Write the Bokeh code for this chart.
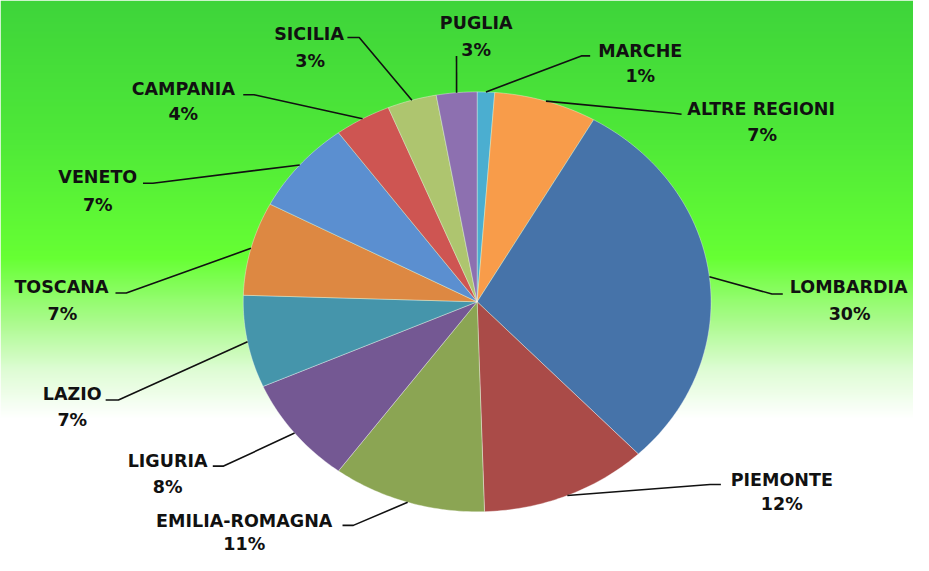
import numpy as np
from bokeh.plotting import figure
from bokeh.models import Range1d, ColumnDataSource
from bokeh.core.properties import value
from bokeh.embed import file_html
from bokeh.resources import INLINE

# ---- data ----
regions = ["MARCHE", "ALTRE REGIONI", "LOMBARDIA", "PIEMONTE", "EMILIA-ROMAGNA",
           "LIGURIA", "LAZIO", "TOSCANA", "VENETO", "CAMPANIA", "SICILIA", "PUGLIA"]
shares = [1.2, 7.1, 29.6, 11.6, 10.6, 8.3, 7.1, 7.2, 7.2, 3.9, 3.4, 2.8]
colors = ["#4BAED0", "#F89C4A", "#4673A9", "#AA4B48", "#8BA553", "#745893",
          "#4595AB", "#DD8842", "#5B8FD0", "#CE5552", "#AEC56F", "#8D70B0"]

# ---- layout (reference pixel space, measured from the top) ----
W, H = 929, 571
CX, CY, RX, RY = 485, 310, 238, 216
name_pos = [(651, 52), (774, 112), (863, 295), (795, 493), (248, 535), (170, 474),
            (73, 405), (62, 295), (99, 182), (186, 91), (314, 34), (484, 23)]
pct_pos = [(651, 78), (775, 138), (864, 323), (795, 518), (248, 559), (170, 501),
           (73, 432), (63, 323), (99, 210), (186, 117), (315, 62), (484, 51)]
elbows = [(591, 57), (685, 116), (785, 302), (722, 498), (359, 540), (227, 479),
          (120, 411), (128, 301), (155, 188), (258, 97), (365, 38), (464, 57)]
ends = [(600, 57), (693, 117), (796, 302), (733, 498), (348, 540), (216, 479),
        (107, 411), (117, 301), (145, 188), (247, 97), (353, 38), (464, 57)]


def fy(v):
    # convert a top-measured pixel row to a data y (y axis grows upward)
    return H - v


p = figure(width=913, height=555, x_range=Range1d(0, W), y_range=Range1d(0, H),
           output_backend="svg", toolbar_location=None, min_border=0)
p.axis.visible = False
p.grid.visible = False
p.outline_line_color = None
p.background_fill_color = "white"
p.border_fill_color = "white"

# ---- background gradient (image, row 0 at the bottom) ----
stops_y = [0, 140, 265, 330, 380, 430, H]
stops_c = np.array([[62, 212, 58], [78, 232, 56], [102, 255, 51], [170, 250, 140],
                    [222, 252, 212], [255, 255, 255], [255, 255, 255]], dtype=float)
rows = H
img = np.empty((rows, 4, 4), dtype=np.uint8)
for k in range(rows):
    ypx = H - (k + 0.5)
    for c in range(3):
        img[k, :, c] = int(round(np.interp(ypx, stops_y, stops_c[:, c])))
    img[k, :, 3] = 255
rgba = img.view(dtype=np.uint32).reshape((rows, 4))
p.image_rgba(image=[rgba], x=0, y=0, dw=W, dh=H)

# ---- pie slices (ellipse) ----
vals = np.array(shares, dtype=float)
frac = vals / vals.sum()
cum = np.concatenate([[0], np.cumsum(frac)])
xs, yss = [], []
mids = []
for i in range(len(vals)):
    a0, a1 = cum[i] * 2 * np.pi, cum[i + 1] * 2 * np.pi
    n = max(4, int((a1 - a0) / (2 * np.pi) * 360))
    t = np.linspace(a0, a1, n)
    xs.append([CX] + list(CX + RX * np.sin(t)))
    yss.append([fy(CY)] + list(fy(CY) + RY * np.cos(t)))
    mids.append((a0 + a1) / 2)
p.patches(xs=xs, ys=yss, fill_color=colors, line_color="white", line_alpha=0.45,
          line_width=0.8)

# ---- leader lines ----
lx, ly = [], []
for i, m in enumerate(mids):
    sx, sy = CX + RX * np.sin(m), fy(CY) + RY * np.cos(m)
    lx.append([sx, elbows[i][0], ends[i][0]])
    ly.append([sy, fy(elbows[i][1]), fy(ends[i][1])])
p.multi_line(xs=lx, ys=ly, line_color="#111111", line_width=1.6)

# ---- labels ----
pct_text = ["%d%%" % round(v) for v in vals / vals.sum() * 100]
src_n = ColumnDataSource(dict(x=[q[0] for q in name_pos], y=[fy(q[1]) for q in name_pos], t=regions))
src_p = ColumnDataSource(dict(x=[q[0] for q in pct_pos], y=[fy(q[1]) for q in pct_pos], t=pct_text))
for src in (src_n, src_p):
    p.text(x="x", y="y", text="t", source=src, text_align="center", text_baseline="middle",
           text_font=value("DejaVu Sans"), text_font_style="bold", text_font_size="17.5px",
           text_color="#111111")

open("out.html", "w").write(file_html(p, INLINE))
